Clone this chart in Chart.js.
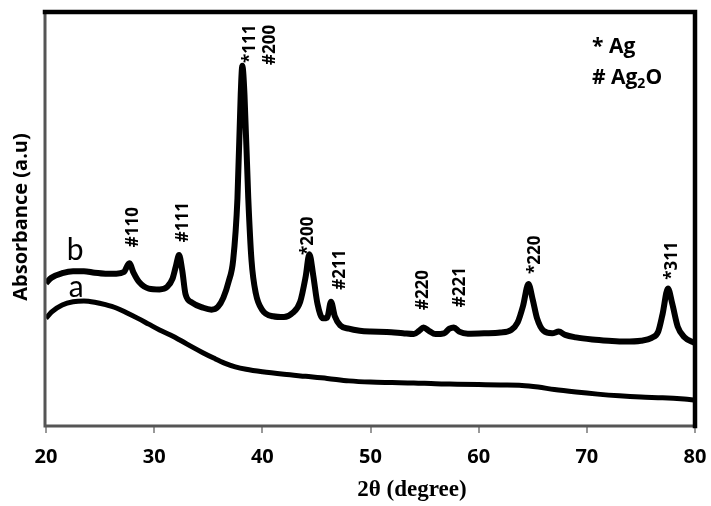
<!DOCTYPE html>
<html>
<head>
<meta charset="utf-8">
<script src="https://cdn.jsdelivr.net/npm/chart.js@4.4.0/dist/chart.umd.min.js"></script>
<style>
  body { margin: 0; background: #fff; }
  canvas { display: block; }
</style>
</head>
<body>
<canvas id="xrd" width="711" height="506"></canvas>
<script>
// x ticks of the 2θ axis
var xTicks = [20, 30, 40, 50, 60, 70, 80];

// curve b (Ag / Ag2O sample), 2θ and intensity (a.u, 0-100 of the frame)
var thetaB = [20.0, 20.5, 21.5, 22.5, 23.5, 24.5, 25.5, 26.5, 27.2, 27.7, 28.1, 28.6, 29.5, 30.5, 31.2, 31.7,
  32.0, 32.3, 32.6, 32.9, 33.5, 34.5, 35.3, 35.9, 36.4, 36.9, 37.3, 37.7, 38.0, 38.15, 38.35, 38.7, 39.0,
  39.4, 40.0, 41.0, 42.0, 42.8, 43.5, 44.0, 44.35, 44.7, 45.1, 45.6, 46.0, 46.35, 46.7, 47.2, 48.0, 49.0,
  50.0, 51.5, 53.0, 54.0, 54.5, 54.9, 55.4, 56.0, 56.8, 57.3, 57.7, 58.2, 59.0, 60.5, 62.0, 63.0, 63.6,
  64.1, 64.6, 65.0, 65.4, 66.0, 66.8, 67.4, 68.0, 69.0, 70.5, 72.0, 73.5, 75.0, 76.0, 76.6, 77.0, 77.5,
  77.9, 78.4, 79.0, 80.0];
var intensB = [34.5, 35.8, 36.9, 37.4, 37.4, 37.0, 36.8, 36.8, 37.2, 39.3, 37.0, 34.8, 33.2, 33.0, 33.6, 35.6,
  38.5, 41.3, 37.5, 31.8, 29.8, 28.6, 28.1, 28.8, 31.0, 35.0, 40.0, 55.0, 80.0, 87.0, 80.0, 55.0, 40.0,
  32.0, 28.0, 26.5, 26.3, 27.3, 30.0, 36.0, 41.5, 36.5, 29.5, 26.0, 26.2, 30.0, 26.5, 24.3, 23.5, 23.0,
  22.8, 22.7, 22.4, 22.2, 23.0, 23.8, 23.0, 22.2, 22.4, 23.5, 23.8, 22.8, 22.3, 22.4, 22.6, 23.2, 25.0,
  29.0, 34.3, 30.5, 26.0, 23.0, 22.4, 22.8, 22.0, 21.4, 20.9, 20.6, 20.4, 20.6, 21.3, 22.8, 27.0, 33.2,
  29.5, 24.0, 21.5, 20.0];

// curve a (reference sample)
var thetaA = [20.0, 20.5, 21.5, 22.5, 23.5, 24.5, 25.5, 26.5, 27.5, 28.5, 29.5, 30.5, 31.5, 32.5, 33.5, 34.5,
  35.5, 36.5, 37.5, 38.5, 40.0, 42.0, 44.0, 46.0, 48.0, 50.0, 52.0, 54.0, 56.0, 58.0, 60.0, 62.0, 64.0,
  65.5, 67.0, 69.0, 71.0, 73.0, 75.0, 77.0, 79.0, 80.0];
var intensA = [26.0, 27.5, 29.2, 30.0, 30.2, 29.9, 29.3, 28.5, 27.3, 26.0, 24.6, 23.2, 22.0, 20.6, 19.1, 17.7,
  16.4, 15.2, 14.3, 13.7, 13.1, 12.5, 12.0, 11.5, 10.9, 10.6, 10.5, 10.4, 10.2, 10.1, 10.0, 9.9, 9.8,
  9.4, 8.8, 8.2, 7.7, 7.3, 7.0, 6.8, 6.5, 6.3];

// peak labels: text, 2θ of the label baseline, intensity where the label starts
var peakText = ['#110', '#111', '*111', '#200', '*200', '#211', '#220', '#221', '*220', '*311'];
var peakTheta = [28.5, 33.15, 39.3, 41.15, 44.7, 47.66, 55.33, 58.75, 65.68, 78.34];
var peakLevel = [43.2, 44.4, 87.7, 87.2, 41.3, 32.9, 28.0, 28.7, 36.7, 35.3];

// curve names and where they sit
var curveNames = ['b', 'a'];
var curveTheta = [22.7, 22.8];
var curveLevel = [40.1, 31.2];

function toPoints(xs, ys) {
  return xs.map(function (x, i) { return { x: x, y: ys[i] }; });
}

var BOLD = '"Open Sans", Lato, sans-serif';
var PLAIN = 'Lato, "Open Sans", sans-serif';

var decorPlugin = {
  id: 'decor',
  afterDraw: function (chart) {
    var ctx = chart.ctx, area = chart.chartArea;
    var sx = chart.scales.x, sy = chart.scales.y;
    ctx.save();

    // plot frame: grey left/bottom, heavy black top/right
    ctx.lineCap = 'square';
    ctx.strokeStyle = '#555';
    ctx.lineWidth = 3;
    ctx.beginPath();
    ctx.moveTo(area.left - 1, area.top);
    ctx.lineTo(area.left - 1, area.bottom);
    ctx.lineTo(area.right, area.bottom);
    ctx.stroke();
    ctx.strokeStyle = '#000';
    ctx.lineWidth = 4.5;
    ctx.beginPath();
    ctx.moveTo(area.left - 1, area.top);
    ctx.lineTo(area.right, area.top);
    ctx.lineTo(area.right, area.bottom);
    ctx.stroke();

    ctx.fillStyle = '#000';

    // peak labels, rotated
    ctx.font = 'bold 17px ' + BOLD;
    ctx.textAlign = 'left';
    ctx.textBaseline = 'alphabetic';
    peakText.forEach(function (t, i) {
      ctx.save();
      ctx.translate(sx.getPixelForValue(peakTheta[i]), sy.getPixelForValue(peakLevel[i]));
      ctx.rotate(-Math.PI / 2);
      ctx.fillText(t, 0, 0);
      ctx.restore();
    });

    // curve names
    ctx.font = '30px ' + PLAIN;
    ctx.textAlign = 'center';
    curveNames.forEach(function (t, i) {
      ctx.fillText(t, sx.getPixelForValue(curveTheta[i]), sy.getPixelForValue(curveLevel[i]));
    });

    // key
    ctx.font = 'bold 21px ' + BOLD;
    ctx.textAlign = 'left';
    ctx.fillText('* Ag', 592, 53);
    var kx = 592, ky = 84;
    ctx.fillText('# Ag', kx, ky);
    kx += ctx.measureText('# Ag').width;
    ctx.font = 'bold 14px ' + BOLD;
    ctx.fillText('2', kx, ky + 4);
    kx += ctx.measureText('2').width;
    ctx.font = 'bold 21px ' + BOLD;
    ctx.fillText('O', kx, ky);

    // axis titles
    ctx.font = 'bold 20px ' + BOLD;
    ctx.textAlign = 'center';
    ctx.save();
    ctx.translate(27, 217);
    ctx.rotate(-Math.PI / 2);
    ctx.fillText('Absorbance (a.u)', 0, 0);
    ctx.restore();

    ctx.font = 'bold 23px "Liberation Serif", "DejaVu Serif", serif';
    ctx.fillText('2θ (degree)', 412, 496);

    ctx.restore();
  }
};

new Chart(document.getElementById('xrd').getContext('2d'), {
  type: 'line',
  data: {
    datasets: [{
      label: 'b',
      data: toPoints(thetaB, intensB),
      borderColor: '#000',
      borderWidth: 6,
      pointRadius: 0,
      cubicInterpolationMode: 'monotone'
    }, {
      label: 'a',
      data: toPoints(thetaA, intensA),
      borderColor: '#000',
      borderWidth: 5,
      pointRadius: 0,
      cubicInterpolationMode: 'monotone'
    }]
  },
  options: {
    responsive: false,
    animation: false,
    layout: { padding: { left: 46, right: 16, top: 12, bottom: 0 } },
    plugins: { legend: { display: false }, tooltip: { enabled: false } },
    scales: {
      x: {
        type: 'linear',
        min: 20,
        max: 80,
        afterBuildTicks: function (s) { s.ticks = xTicks.map(function (v) { return { value: v }; }); },
        afterFit: function (s) { s.height = 80; s.paddingLeft = 0; s.paddingRight = 0; },
        border: { display: false },
        grid: { drawOnChartArea: false, drawTicks: true, tickLength: 7, tickColor: '#999', lineWidth: 2 },
        ticks: { color: '#000', font: { family: BOLD, size: 20, weight: 'bold' }, padding: 12, maxRotation: 0 }
      },
      y: {
        display: false,
        min: 0,
        max: 100
      }
    }
  },
  plugins: [decorPlugin]
});
</script>
</body>
</html>
